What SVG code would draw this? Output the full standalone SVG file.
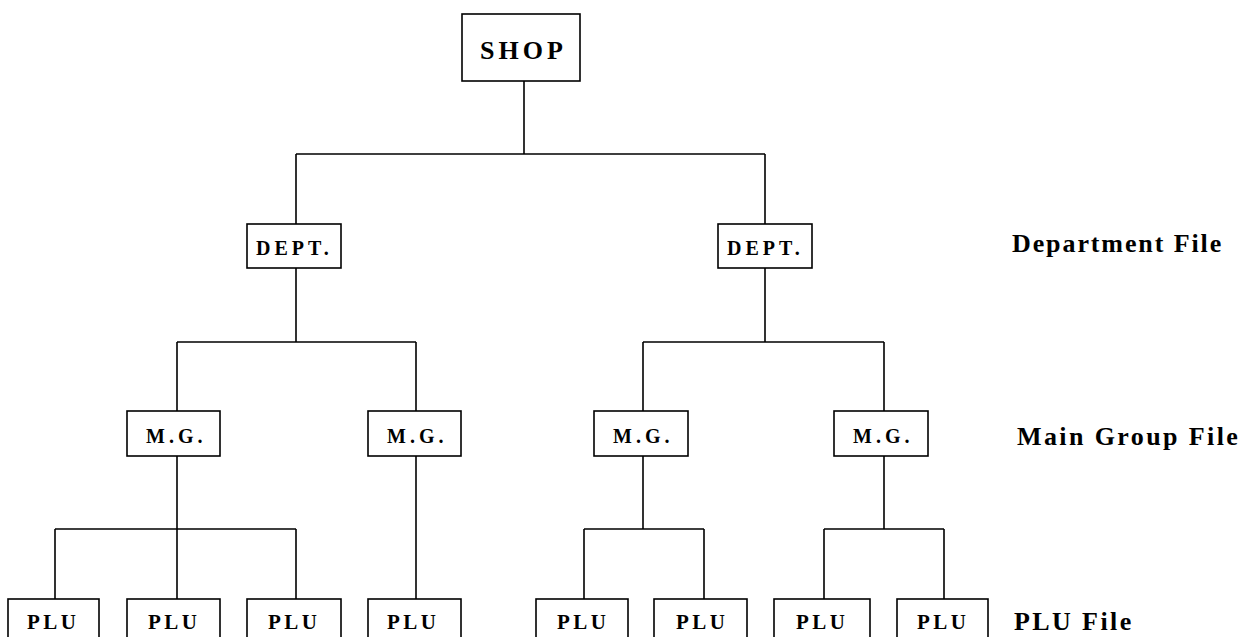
<svg xmlns="http://www.w3.org/2000/svg" width="1250" height="637" viewBox="0 0 1250 637">
<style>
.box{fill:#fff;stroke:#000;stroke-width:1.6}
.ln{fill:none;stroke:#000;stroke-width:1.6}
.t{fill:#000}
.s{font-size:20px;letter-spacing:4px}
.p{font-size:21px;letter-spacing:3.5px}
.big{font-size:26px;letter-spacing:4px}
.lab{font-size:26px;letter-spacing:2.4px}
.lab.d{letter-spacing:1.9px}
</style>
<rect width="1250" height="637" fill="#fff"/>
<g id="connectors">
<path class="ln" d="M524 81V154M296 154H765M296 154V224M765 154V224"/>
<path class="ln" d="M296 268V342M177 342H416M177 342V411M416 342V411"/>
<path class="ln" d="M765 268V342M643 342H884M643 342V411M884 342V411"/>
<path class="ln" d="M177 456V529M55 529H296M55 529V599M177 529V599M296 529V599"/>
<path class="ln" d="M416 456V599"/>
<path class="ln" d="M643 456V529M584 529H704M584 529V599M704 529V599"/>
<path class="ln" d="M884 456V529M824 529H944M824 529V599M944 529V599"/>
</g>
<g font-family="Liberation Serif, Times New Roman, serif" font-weight="700">
<g id="shop"><rect class="box" x="462" y="14" width="118" height="67"/><text class="t big" x="480" y="59">SHOP</text></g>
<g id="dept1"><rect class="box" x="247" y="224" width="94" height="44"/><text class="t s" x="256" y="255">DEPT.</text></g>
<g id="dept2"><rect class="box" x="718" y="224" width="94" height="44"/><text class="t s" x="727" y="255">DEPT.</text></g>
<g id="mg1"><rect class="box" x="127" y="411" width="93" height="45"/><text class="t s" x="146" y="443">M.G.</text></g>
<g id="mg2"><rect class="box" x="368" y="411" width="93" height="45"/><text class="t s" x="387" y="443">M.G.</text></g>
<g id="mg3"><rect class="box" x="594" y="411" width="94" height="45"/><text class="t s" x="613" y="443">M.G.</text></g>
<g id="mg4"><rect class="box" x="834" y="411" width="94" height="45"/><text class="t s" x="853" y="443">M.G.</text></g>
<g id="plu1"><rect class="box" x="8" y="599" width="91" height="50"/><text class="t p" x="27" y="629">PLU</text></g>
<g id="plu2"><rect class="box" x="127" y="599" width="93" height="50"/><text class="t p" x="148" y="629">PLU</text></g>
<g id="plu3"><rect class="box" x="247" y="599" width="94" height="50"/><text class="t p" x="268" y="629">PLU</text></g>
<g id="plu4"><rect class="box" x="368" y="599" width="93" height="50"/><text class="t p" x="387" y="629">PLU</text></g>
<g id="plu5"><rect class="box" x="536" y="599" width="92" height="50"/><text class="t p" x="557" y="629">PLU</text></g>
<g id="plu6"><rect class="box" x="654" y="599" width="93" height="50"/><text class="t p" x="676" y="629">PLU</text></g>
<g id="plu7"><rect class="box" x="774" y="599" width="96" height="50"/><text class="t p" x="796" y="629">PLU</text></g>
<g id="plu8"><rect class="box" x="897" y="599" width="91" height="50"/><text class="t p" x="917" y="629">PLU</text></g>
<g id="labels">
<text class="t lab d" x="1012" y="252">Department File</text>
<text class="t lab" x="1017" y="445">Main Group File</text>
<text class="t lab" x="1014" y="630">PLU File</text>
</g>
</g>
</svg>
